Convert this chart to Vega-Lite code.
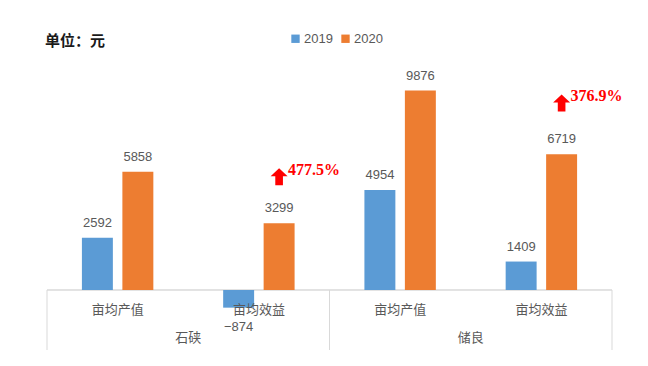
{
  "$schema": "https://vega.github.io/schema/vega-lite/v6.json",
  "width": 565,
  "height": 290,
  "autosize": {"type": "none"},
  "padding": {"left": 47, "top": 60, "right": 36, "bottom": 16},
  "background": "white",
  "config": {"view": {"stroke": null}},
  "title": {"text": "单位：元", "anchor": "start", "frame": "group", "offset": -17, "dx": -2, "font": "Noto Sans CJK SC", "fontSize": 15, "fontWeight": "bold", "color": "#1a1a1a"},
  "datasets": {
    "bars": [
      {"group": "石硖", "metric": "亩均产值", "cat": "石硖|亩均产值", "year": "2019", "value": 2592},
      {"group": "石硖", "metric": "亩均产值", "cat": "石硖|亩均产值", "year": "2020", "value": 5858},
      {"group": "石硖", "metric": "亩均效益", "cat": "石硖|亩均效益", "year": "2019", "value": -874},
      {"group": "石硖", "metric": "亩均效益", "cat": "石硖|亩均效益", "year": "2020", "value": 3299},
      {"group": "储良", "metric": "亩均产值", "cat": "储良|亩均产值", "year": "2019", "value": 4954},
      {"group": "储良", "metric": "亩均产值", "cat": "储良|亩均产值", "year": "2020", "value": 9876},
      {"group": "储良", "metric": "亩均效益", "cat": "储良|亩均效益", "year": "2019", "value": 1409},
      {"group": "储良", "metric": "亩均效益", "cat": "储良|亩均效益", "year": "2020", "value": 6719}
    ],
    "groups": [
      {"group": "石硖", "cat": "石硖|亩均产值"},
      {"group": "储良", "cat": "储良|亩均产值"}
    ],
    "lastcat": [
      {"cat": "储良|亩均效益"}
    ],
    "notes": [
      {"cat": "石硖|亩均效益", "year": "2020", "label": "477.5%", "at": 5610},
      {"cat": "储良|亩均效益", "year": "2020", "label": "376.9%", "at": 9260}
    ]
  },
  "layer": [
    {
      "data": {"name": "groups"},
      "mark": {"type": "rule", "color": "#d9d9d9", "strokeWidth": 1},
      "encoding": {
        "x": {"field": "cat", "type": "nominal", "bandPosition": 0, "axis": null,
              "scale": {"domain": ["石硖|亩均产值", "石硖|亩均效益", "储良|亩均产值", "储良|亩均效益"], "paddingInner": 0, "paddingOuter": 0}},
        "y": {"datum": 0, "type": "quantitative", "axis": null, "scale": {"domain": [-2970, 11386], "nice": false, "zero": false}},
        "y2": {"datum": -2970}
      }
    },
    {
      "data": {"name": "lastcat"},
      "mark": {"type": "rule", "color": "#d9d9d9", "strokeWidth": 1},
      "encoding": {
        "x": {"field": "cat", "type": "nominal", "bandPosition": 1, "axis": null},
        "y": {"datum": 0, "type": "quantitative"},
        "y2": {"datum": -2970}
      }
    },
    {
      "data": {"name": "groups"},
      "mark": {"type": "rule", "color": "#d9d9d9", "strokeWidth": 1},
      "encoding": {
        "y": {"datum": 0, "type": "quantitative"}
      }
    },
    {
      "data": {"name": "bars"},
      "mark": {"type": "bar"},
      "encoding": {
        "x": {"field": "cat", "type": "nominal", "axis": null},
        "xOffset": {"field": "year", "type": "nominal", "scale": {"domain": ["2019", "2020"], "paddingInner": 0.235, "paddingOuter": 0.8625}},
        "y": {"field": "value", "type": "quantitative"},
        "y2": {"datum": 0},
        "color": {"field": "year", "type": "nominal",
                  "scale": {"domain": ["2019", "2020"], "range": ["#5B9BD5", "#ED7D31"]},
                  "legend": {"title": null, "orient": "none", "legendX": 242, "legendY": -28, "direction": "horizontal",
                             "symbolType": "square", "symbolSize": 70, "symbolStrokeWidth": 0,
                             "labelFont": "Liberation Sans", "labelFontSize": 13, "labelColor": "#595959",
                             "labelOffset": 2, "columnPadding": 6}}
      }
    },
    {
      "data": {"name": "bars"},
      "transform": [{"filter": "datum.year == '2019'"}],
      "mark": {"type": "text", "font": "Noto Sans CJK SC", "fontSize": 13, "color": "#595959", "baseline": "middle"},
      "encoding": {
        "x": {"field": "cat", "type": "nominal"},
        "y": {"datum": -990, "type": "quantitative"},
        "text": {"field": "metric"}
      }
    },
    {
      "data": {"name": "groups"},
      "mark": {"type": "text", "font": "Noto Sans CJK SC", "fontSize": 13, "color": "#595959", "baseline": "middle"},
      "encoding": {
        "x": {"field": "cat", "type": "nominal", "bandPosition": 1},
        "y": {"datum": -2380, "type": "quantitative"},
        "text": {"field": "group"}
      }
    },
    {
      "data": {"name": "bars"},
      "transform": [{"filter": "datum.value >= 0"}],
      "mark": {"type": "text", "font": "Liberation Sans", "fontSize": 13, "color": "#595959", "baseline": "middle", "dy": -15},
      "encoding": {
        "x": {"field": "cat", "type": "nominal"},
        "xOffset": {"field": "year", "type": "nominal"},
        "y": {"field": "value", "type": "quantitative"},
        "text": {"field": "value", "type": "quantitative", "format": "d"}
      }
    },
    {
      "data": {"name": "bars"},
      "transform": [{"filter": "datum.value < 0"}],
      "mark": {"type": "text", "font": "Liberation Sans", "fontSize": 13, "color": "#595959", "baseline": "middle", "dy": 19},
      "encoding": {
        "x": {"field": "cat", "type": "nominal"},
        "xOffset": {"field": "year", "type": "nominal"},
        "y": {"field": "value", "type": "quantitative"},
        "text": {"field": "value", "type": "quantitative", "format": "d"}
      }
    },
    {
      "data": {"name": "notes"},
      "mark": {"type": "point", "filled": true, "opacity": 1, "color": "#FF0000", "size": 289,
               "shape": "M-0.45,1 L0.45,1 L0.45,-0.05 L1,-0.05 L0,-1 L-1,-0.05 L-0.45,-0.05 Z"},
      "encoding": {
        "x": {"field": "cat", "type": "nominal"},
        "xOffset": {"field": "year", "type": "nominal"},
        "y": {"field": "at", "type": "quantitative"}
      }
    },
    {
      "data": {"name": "notes"},
      "mark": {"type": "text", "font": "Liberation Serif", "fontWeight": "bold", "fontSize": 16, "color": "#FF0000", "align": "left", "baseline": "middle", "dx": 9, "dy": -7},
      "encoding": {
        "x": {"field": "cat", "type": "nominal"},
        "xOffset": {"field": "year", "type": "nominal"},
        "y": {"field": "at", "type": "quantitative"},
        "text": {"field": "label"}
      }
    }
  ]
}
